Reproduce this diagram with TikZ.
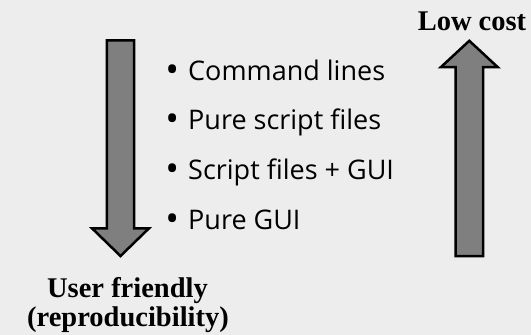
\documentclass[tikz,border=0pt]{standalone}
\usepackage{fontspec}
\setsansfont{Open Sans}
\newfontfamily\capfont{Liberation Serif}
\usepackage{tikz}
\usetikzlibrary{positioning}
\definecolor{bg-gray}{RGB}{237,237,237}
\definecolor{arrow-gray}{RGB}{127,127,127}
\newcommand{\bigbullet}{\llap{\raisebox{-2.2pt}{\scalebox{1.35}{•}}\hspace{9pt}}}

\begin{document}
\begin{tikzpicture}[
    x=1pt, y=-1pt,
    node distance=20.3pt,
    bigarrow/.style={draw=black, line width=2.5pt, fill=arrow-gray, line join=miter},
    item/.style={inner sep=0pt, text height=22pt, text depth=7pt, anchor=base west, font=\sffamily\fontsize{27}{32}\selectfont},
    caption/.style={inner sep=0pt, anchor=base, font=\capfont\bfseries\fontsize{28.5}{32}\selectfont}
]
    % Fundo
    \fill[bg-gray] (0,0) rectangle (531,335);
    \useasboundingbox (0,0) rectangle (531,335);

    % Setas
    \draw[bigarrow] (106.8,40.3) -- (134.2,40.3) -- (134.2,228.3) -- (149,228.3)
        -- (120.5,256) -- (92,228.3) -- (106.8,228.3) -- cycle;
    \draw[bigarrow] (455.6,256) -- (483,256) -- (483,67.2) -- (497.8,67.2)
        -- (469.3,40.8) -- (440.8,67.2) -- (455.6,67.2) -- cycle;

    % Rótulos
    \node[caption] (cost) at (472,30) {Low cost};
    \node[caption] (friendly) at (127.5,297.7) {User friendly};
    \node[caption] (repro) at (128,326) {(reproducibility)};

    % Lista
    \node[item] (i1) at (188,80) {\bigbullet Command lines};
    \node[item, below=of i1.south west, anchor=north west] (i2) {\bigbullet Pure script files};
    \node[item, below=of i2.south west, anchor=north west] (i3) {\bigbullet Script files + GUI};
    \node[item, below=of i3.south west, anchor=north west] (i4) {\bigbullet Pure GUI};
\end{tikzpicture}
\end{document}
